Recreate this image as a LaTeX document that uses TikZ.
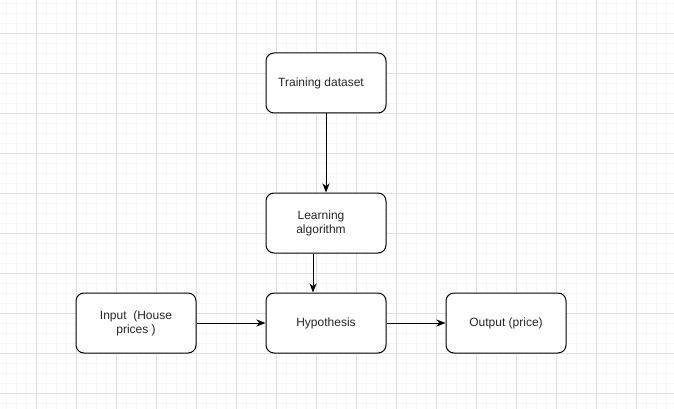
\documentclass[tikz,border=0pt]{standalone}
\usepackage{fontspec}
\setmainfont{Liberation Sans}
\usetikzlibrary{arrows.meta}
\definecolor{minorgrid}{HTML}{F6F6F6}
\definecolor{majorgrid}{HTML}{DEDEDE}
\tikzset{
  box/.style={draw=black, line width=1pt, rounded corners=8pt, fill=white,
    minimum width=120pt, minimum height=60pt, inner sep=0pt, align=center,
    font=\fontsize{12pt}{14pt}\selectfont, text=black!85},
  conn/.style={draw=black, line width=1pt, -{Stealth[length=9pt,width=7pt,inset=2.5pt]}}
}
\begin{document}
\begin{tikzpicture}[x=1pt,y=-1pt]
\useasboundingbox (0,0) rectangle (674,409);
\fill[white] (0,0) rectangle (674,409);
% grid
\foreach \x in {6,16,...,674} \draw[minorgrid, line width=0.8pt] (\x,0) -- (\x,409);
\foreach \y in {3,13,...,409} \draw[minorgrid, line width=0.8pt] (0,\y) -- (674,\y);
\foreach \x in {36,76,...,674} \draw[majorgrid, line width=0.8pt] (\x,0) -- (\x,409);
\foreach \y in {33,73,...,409} \draw[majorgrid, line width=0.8pt] (0,\y) -- (674,\y);
% nodes
\node[box] (tr) at (326,83) {\hspace*{-10pt}Training dataset};
\node[box] (la) at (326,223) {\raisebox{-5pt}{\shortstack{Learning\\algorithm}}\hspace*{10pt}};
\node[box] (hy) at (326,323) {Hypothesis};
\node[box] (in) at (136,323) {\raisebox{-5pt}{\shortstack{Input \ (House\\prices )}}};
\node[box] (out) at (506,323) {Output (price)};
% connectors
\draw[conn] (tr.south) -- (la.north);
\draw[conn] ([xshift=-13pt]la.south) -- ([xshift=-13pt]hy.north);
\draw[conn] (in.east) -- (hy.west);
\draw[conn] (hy.east) -- (out.west);
\end{tikzpicture}
\end{document}
